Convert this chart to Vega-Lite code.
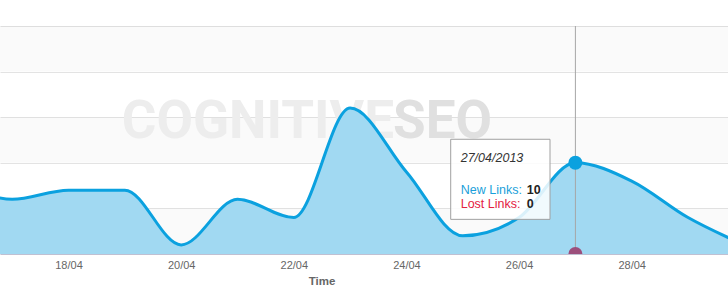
{
  "$schema": "https://vega.github.io/schema/vega-lite/v6.json",
  "width": 728,
  "height": 228,
  "autosize": {"type": "none"},
  "padding": {"left": 0, "right": 0, "top": 26, "bottom": 51},
  "background": "#ffffff",
  "config": {
    "view": {"stroke": null},
    "font": "Liberation Sans"
  },
  "datasets": {
    "links": [
      {"date": "2013-04-16T00:00", "new": 8, "lost": 0},
      {"date": "2013-04-17T00:00", "new": 6, "lost": 0},
      {"date": "2013-04-18T00:00", "new": 7, "lost": 0},
      {"date": "2013-04-19T00:00", "new": 7, "lost": 0},
      {"date": "2013-04-20T00:00", "new": 1, "lost": 0},
      {"date": "2013-04-21T00:00", "new": 6, "lost": 0},
      {"date": "2013-04-22T00:00", "new": 4, "lost": 0},
      {"date": "2013-04-23T00:00", "new": 16, "lost": 0},
      {"date": "2013-04-24T00:00", "new": 9, "lost": 0},
      {"date": "2013-04-25T00:00", "new": 2, "lost": 0},
      {"date": "2013-04-26T00:00", "new": 4, "lost": 0},
      {"date": "2013-04-27T00:00", "new": 10, "lost": 0},
      {"date": "2013-04-28T00:00", "new": 8, "lost": 0},
      {"date": "2013-04-29T00:00", "new": 4, "lost": 0},
      {"date": "2013-04-30T00:00", "new": 1, "lost": 0}
    ],
    "bands": [
      {"lo": 0, "hi": 5},
      {"lo": 10, "hi": 15},
      {"lo": 20, "hi": 25}
    ],
    "one": [{}]
  },
  "data": {"name": "links"},
  "layer": [
    {
      "data": {"name": "bands"},
      "mark": {"type": "rect", "fill": "#000000", "fillOpacity": 0.02},
      "encoding": {
        "y": {
          "field": "lo", "type": "quantitative",
          "scale": {"domain": [0, 25], "nice": false, "zero": true},
          "axis": {"values": [0, 5, 10, 15, 20, 25], "grid": true, "gridColor": "#e3e3e3", "gridWidth": 1, "labels": false, "ticks": false, "domain": false, "title": null}
        },
        "y2": {"field": "hi"}
      }
    },
    {
      "data": {"name": "one"},
      "mark": {"type": "text", "align": "left", "baseline": "alphabetic", "font": "Roboto", "fontWeight": "bold", "fontSize": 53, "color": "#ededed"},
      "encoding": {
        "x": {"datum": {"year": 2013, "month": 4, "date": 18, "hours": 22, "minutes": 40}, "type": "temporal"},
        "y": {"datum": 12.75, "type": "quantitative"},
        "text": {"value": "COGNITIVE"}
      }
    },
    {
      "data": {"name": "one"},
      "mark": {"type": "text", "align": "left", "baseline": "alphabetic", "font": "Roboto", "fontWeight": "bold", "fontSize": 53, "color": "#e0e0e0"},
      "encoding": {
        "x": {"datum": {"year": 2013, "month": 4, "date": 23, "hours": 18, "minutes": 17}, "type": "temporal"},
        "y": {"datum": 12.75, "type": "quantitative"},
        "text": {"value": "SEO"}
      }
    },
    {
      "mark": {"type": "area", "color": "#a1d9f2", "interpolate": "monotone", "clip": true},
      "encoding": {
        "x": {
          "field": "date", "type": "temporal",
          "scale": {"domain": [{"year": 2013, "month": 4, "date": 16, "hours": 18, "minutes": 48}, {"year": 2013, "month": 4, "date": 29, "hours": 17, "minutes": 2}], "nice": false},
          "axis": {
            "values": [
              {"year": 2013, "month": 4, "date": 18},
              {"year": 2013, "month": 4, "date": 20},
              {"year": 2013, "month": 4, "date": 22},
              {"year": 2013, "month": 4, "date": 24},
              {"year": 2013, "month": 4, "date": 26},
              {"year": 2013, "month": 4, "date": 28}
            ],
            "format": "%d/%m",
            "grid": false,
            "ticks": false,
            "domainColor": "#c0c0d2",
            "domainWidth": 1,
            "labelColor": "#666666",
            "labelFontSize": 11,
            "labelPadding": 5,
            "title": "Time",
            "titleColor": "#666666",
            "titleFontSize": 11.5,
            "titleFontWeight": "bold",
            "titleX": 321.5,
            "titleY": 30,
            "titleAlign": "center",
            "titleBaseline": "alphabetic"
          }
        },
        "y": {"field": "new", "type": "quantitative", "title": null}
      }
    },
    {
      "mark": {"type": "line", "color": "#0ba1df", "strokeWidth": 3, "interpolate": "monotone", "clip": true},
      "encoding": {
        "x": {"field": "date", "type": "temporal"},
        "y": {"field": "new", "type": "quantitative", "title": null}
      }
    },
    {
      "data": {"name": "one"},
      "mark": {"type": "rule", "color": "#a6a6a6", "strokeWidth": 1},
      "encoding": {
        "x": {"datum": {"year": 2013, "month": 4, "date": 27}, "type": "temporal"}
      }
    },
    {
      "transform": [{"filter": {"field": "date", "timeUnit": "yearmonthdate", "equal": {"year": 2013, "month": 4, "date": 27}}}],
      "mark": {"type": "point", "shape": "circle", "filled": true, "size": 196, "color": "#0ba1df", "opacity": 1, "clip": true},
      "encoding": {
        "x": {"field": "date", "type": "temporal"},
        "y": {"field": "new", "type": "quantitative", "title": null}
      }
    },
    {
      "transform": [{"filter": {"field": "date", "timeUnit": "yearmonthdate", "equal": {"year": 2013, "month": 4, "date": 27}}}],
      "mark": {"type": "point", "shape": "circle", "filled": true, "size": 196, "color": "#9c4f7c", "opacity": 1, "clip": true},
      "encoding": {
        "x": {"field": "date", "type": "temporal"},
        "y": {"field": "lost", "type": "quantitative", "title": null}
      }
    },
    {
      "data": {"name": "one"},
      "mark": {"type": "rect", "fill": "#ffffff", "fillOpacity": 0.85, "stroke": "#a0a0a0", "strokeWidth": 1},
      "encoding": {
        "x": {"datum": {"year": 2013, "month": 4, "date": 24, "hours": 18, "minutes": 52}, "type": "temporal"},
        "x2": {"datum": {"year": 2013, "month": 4, "date": 26, "hours": 13, "minutes": 11}},
        "y": {"datum": 12.58, "type": "quantitative"},
        "y2": {"datum": 3.8}
      }
    },
    {
      "transform": [{"filter": {"field": "date", "timeUnit": "yearmonthdate", "equal": {"year": 2013, "month": 4, "date": 27}}}],
      "mark": {"type": "text", "align": "left", "baseline": "alphabetic", "fontSize": 12.5, "fontStyle": "italic", "color": "#333333"},
      "encoding": {
        "x": {"datum": {"year": 2013, "month": 4, "date": 24, "hours": 23, "minutes": 8}, "type": "temporal"},
        "y": {"datum": 10.05, "type": "quantitative"},
        "text": {"field": "date", "type": "temporal", "format": "%d/%m/%Y"}
      }
    },
    {
      "data": {"name": "one"},
      "mark": {"type": "text", "align": "left", "baseline": "alphabetic", "fontSize": 12.5, "color": "#1a9fda"},
      "encoding": {
        "x": {"datum": {"year": 2013, "month": 4, "date": 24, "hours": 23, "minutes": 8}, "type": "temporal"},
        "y": {"datum": 6.546, "type": "quantitative"},
        "text": {"value": "New Links:"}
      }
    },
    {
      "data": {"name": "one"},
      "mark": {"type": "text", "align": "left", "baseline": "alphabetic", "fontSize": 12.5, "color": "#e3213f"},
      "encoding": {
        "x": {"datum": {"year": 2013, "month": 4, "date": 24, "hours": 23, "minutes": 8}, "type": "temporal"},
        "y": {"datum": 5.077, "type": "quantitative"},
        "text": {"value": "Lost Links:"}
      }
    },
    {
      "transform": [{"filter": {"field": "date", "timeUnit": "yearmonthdate", "equal": {"year": 2013, "month": 4, "date": 27}}}],
      "mark": {"type": "text", "align": "left", "baseline": "alphabetic", "fontSize": 12.5, "fontWeight": "bold", "color": "#222222"},
      "encoding": {
        "x": {"datum": {"year": 2013, "month": 4, "date": 26, "hours": 3, "minutes": 16}, "type": "temporal"},
        "y": {"datum": 6.546, "type": "quantitative"},
        "text": {"field": "new", "type": "quantitative"}
      }
    },
    {
      "transform": [{"filter": {"field": "date", "timeUnit": "yearmonthdate", "equal": {"year": 2013, "month": 4, "date": 27}}}],
      "mark": {"type": "text", "align": "left", "baseline": "alphabetic", "fontSize": 12.5, "fontWeight": "bold", "color": "#222222"},
      "encoding": {
        "x": {"datum": {"year": 2013, "month": 4, "date": 26, "hours": 3, "minutes": 16}, "type": "temporal"},
        "y": {"datum": 5.077, "type": "quantitative"},
        "text": {"field": "lost", "type": "quantitative"}
      }
    }
  ]
}
